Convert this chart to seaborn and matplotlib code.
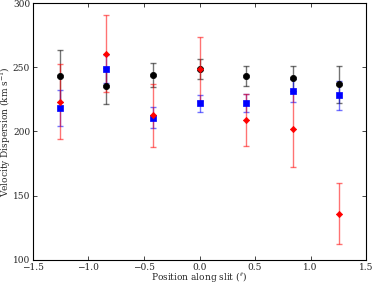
import numpy as np
import pandas as pd
import matplotlib
matplotlib.use("Agg")
import matplotlib.pyplot as plt
import seaborn as sns

# positions along the slit (arcsec)
position = [-1.26, -0.84, -0.42, 0.0, 0.42, 0.84, 1.26]

# black circles
sigma_black = [243.2, 235.2, 244.0, 248.6, 243.4, 241.4, 236.7]
err_black = [20.0, 14.0, 9.5, 7.5, 8.0, 10.0, 14.5]

# blue squares
sigma_blue = [218.5, 248.9, 210.8, 221.9, 222.4, 231.8, 228.2]
err_blue = [14.0, 11.0, 8.0, 6.7, 7.0, 9.0, 11.5]

# red diamonds
sigma_red = [223.2, 260.6, 212.8, 248.4, 209.0, 201.7, 136.0]
err_red = [29.0, 30.0, 24.5, 25.0, 20.0, 29.6, 24.0]

sns.set_style("ticks")
plt.rcParams['font.family'] = ['DejaVu Serif']
plt.rcParams['mathtext.fontset'] = 'dejavuserif'
plt.rcParams['font.size'] = 6.5

fig = plt.figure(figsize=(3.74, 2.84), dpi=100)
ax = fig.add_axes([0.088, 0.085, 0.891, 0.904])

series = [
    (sigma_black, err_black, 'black', 'o', 4.5),
    (sigma_blue, err_blue, 'blue', 's', 4.2),
    (sigma_red, err_red, 'red', 'D', 3.2),
]
for vals, errs, col, mk, ms in series:
    ax.errorbar(position, vals, yerr=errs, fmt='none', ecolor=col,
                alpha=0.55, capsize=2, elinewidth=1.0, capthick=1.0)
for vals, errs, col, mk, ms in series:
    df = pd.DataFrame({'x': position, 'y': vals})
    sns.scatterplot(data=df, x='x', y='y', ax=ax, marker=mk, color=col,
                    s=ms ** 2, edgecolor=col, linewidth=0.5, zorder=3)

ax.set_xlim(-1.5, 1.5)
ax.set_ylim(100, 300)
ax.set_xticks([-1.5, -1.0, -0.5, 0.0, 0.5, 1.0, 1.5])
ax.set_yticks([100, 150, 200, 250, 300])
ax.set_xlabel("Position along slit ($''$)", va='top')
ax.set_ylabel("Velocity Dispersion (km s$^{-1}$)", va='center')
ax.xaxis.set_label_coords(0.5, -0.04)
ax.yaxis.set_label_coords(-0.081, 0.5)
ax.tick_params(direction='in', top=True, right=True, length=3, width=0.6, pad=2)
for s in ax.spines.values():
    s.set_linewidth(0.8)
    s.set_color('black')

fig.savefig("out.png", dpi=100)
